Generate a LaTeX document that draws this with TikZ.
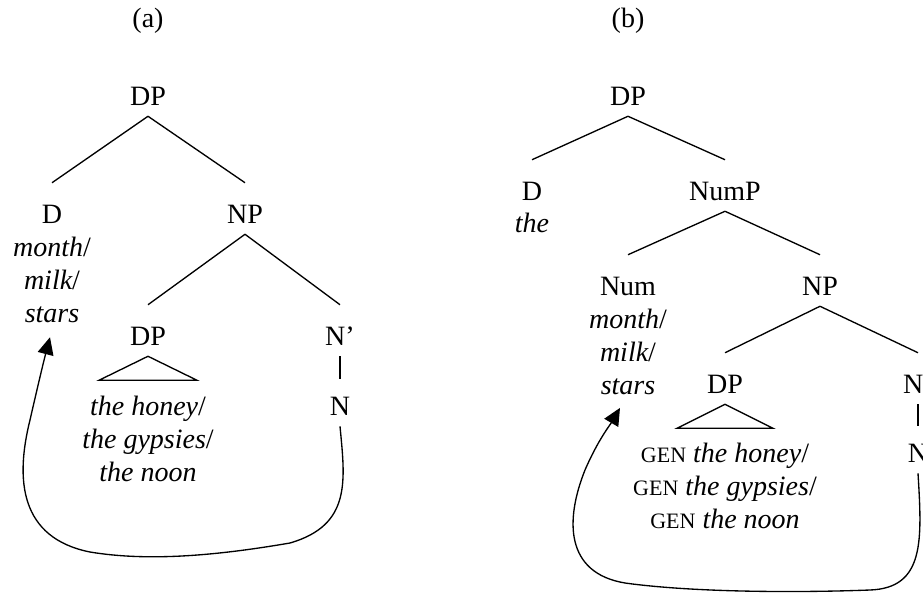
\documentclass[tikz,border=0pt]{standalone}
\usepackage{fontspec}
\setmainfont{Liberation Serif}
\usepackage{tikz}
\usetikzlibrary{arrows.meta}

\newcommand{\treefont}{\fontsize{21}{25}\selectfont}
\newcommand{\genmark}{{\fontsize{16.5}{16.5}\selectfont GEN}}

\begin{document}
\begin{tikzpicture}[x=0.75pt,y=-0.75pt,
		cat/.style={anchor=base, inner sep=0pt, font=\treefont, text height=30pt, text depth=8.25pt},
		lex/.style={anchor=base, inner sep=0pt, font=\treefont\itshape},
		gloss/.style={anchor=base, inner sep=0pt, font=\treefont},
		branch/.style={line width=1pt},
		unary/.style={line width=1pt, shorten >=-3pt},
		move/.style={line width=1pt, -{Triangle[length=13pt,width=12pt]}}]
		\useasboundingbox (0,0) rectangle (923,592);
		
		\node[gloss] (laba) at (148,28) {(a)};
		\node[gloss] (labb) at (628,28) {(b)};
		
		\node[cat] (DPa) at (148,105) {DP};
		\node[cat] (Da) at (52,223) {D};
		\node[lex] (Da1) at (52,256) {month\upshape/};
		\node[lex] (Da2) at (52,289) {milk\upshape/};
		\node[lex] (Da3) at (52,322) {stars};
		\node[cat] (NPa) at (245,223) {NP};
		\node[cat] (DPa2) at (148,345) {DP};
		\node[cat] (Nbara) at (340,345) {N’};
		\node[cat] (Na) at (340,415) {N};
		\node[lex] (hona) at (148,415) {the honey\upshape/};
		\node[lex] (gypa) at (148,448) {the gypsies\upshape/};
		\node[lex] (noona) at (148,481) {the noon};
		
		\draw[branch] (DPa.south) -- (Da.north);
		\draw[branch] (DPa.south) -- (NPa.north);
		\draw[branch] (NPa.south) -- (DPa2.north);
		\draw[branch] (NPa.south) -- (Nbara.north);
		\draw[unary] (Nbara.south) -- (Na.north);
		\draw[branch] (DPa2.south) -- ++(-49,24) -- ++(98,0) -- cycle;
		
		\draw[move] (Na.south) .. controls (345,480) and (352,525) .. (290,543)
			.. controls (220,555) and (150,562) .. (90,552)
			.. controls (20,538) and (15,480) .. (30,420)
			.. controls (38,385) and (44,360) .. ([xshift=-1.5pt,yshift=-11pt]Da3.south);
		
		
		\node[cat] (DPb) at (628,105) {DP};
		\node[cat] (Db) at (532,200) {D};
		\node[lex] (Db1) at (532,232) {the};
		\node[cat] (NumPb) at (725,200) {NumP};
		\node[cat] (Numb) at (628,295) {Num};
		\node[lex] (Numb1) at (628,328) {month\upshape/};
		\node[lex] (Numb2) at (628,361) {milk\upshape/};
		\node[lex] (Numb3) at (628,394) {stars};
		\node[cat] (NPb) at (820,295) {NP};
		\node[cat] (DPb2) at (725,393) {DP};
		\node[cat] (Nbarb) at (918,393) {N’};
		\node[cat] (Nb) at (918,462) {N};
		\node[gloss] (honb) at (725,462) {\genmark{} \textit{the honey}/};
		\node[gloss] (gypb) at (725,495) {\genmark{} \textit{the gypsies}/};
		\node[gloss] (noonb) at (725,528) {\genmark{} \textit{the noon}};
		
		\draw[branch] (DPb.south) -- (Db.north);
		\draw[branch] (DPb.south) -- (NumPb.north);
		\draw[branch] (NumPb.south) -- (Numb.north);
		\draw[branch] (NumPb.south) -- (NPb.north);
		\draw[branch] (NPb.south) -- (DPb2.north);
		\draw[branch] (NPb.south) -- (Nbarb.north);
		\draw[unary] (Nbarb.south) -- (Nb.north);
		\draw[branch] (DPb2.south) -- ++(-48,24) -- ++(96,0) -- cycle;
		
		\draw[move] (Nb.south) .. controls (922,540) and (925,588) .. (870,590)
			.. controls (790,593) and (690,592) .. (625,583)
			.. controls (565,573) and (565,520) .. (585,470)
			.. controls (598,440) and (610,425) .. ([xshift=-6pt,yshift=-10pt]Numb3.south);
		
	\end{tikzpicture}
\end{document}
